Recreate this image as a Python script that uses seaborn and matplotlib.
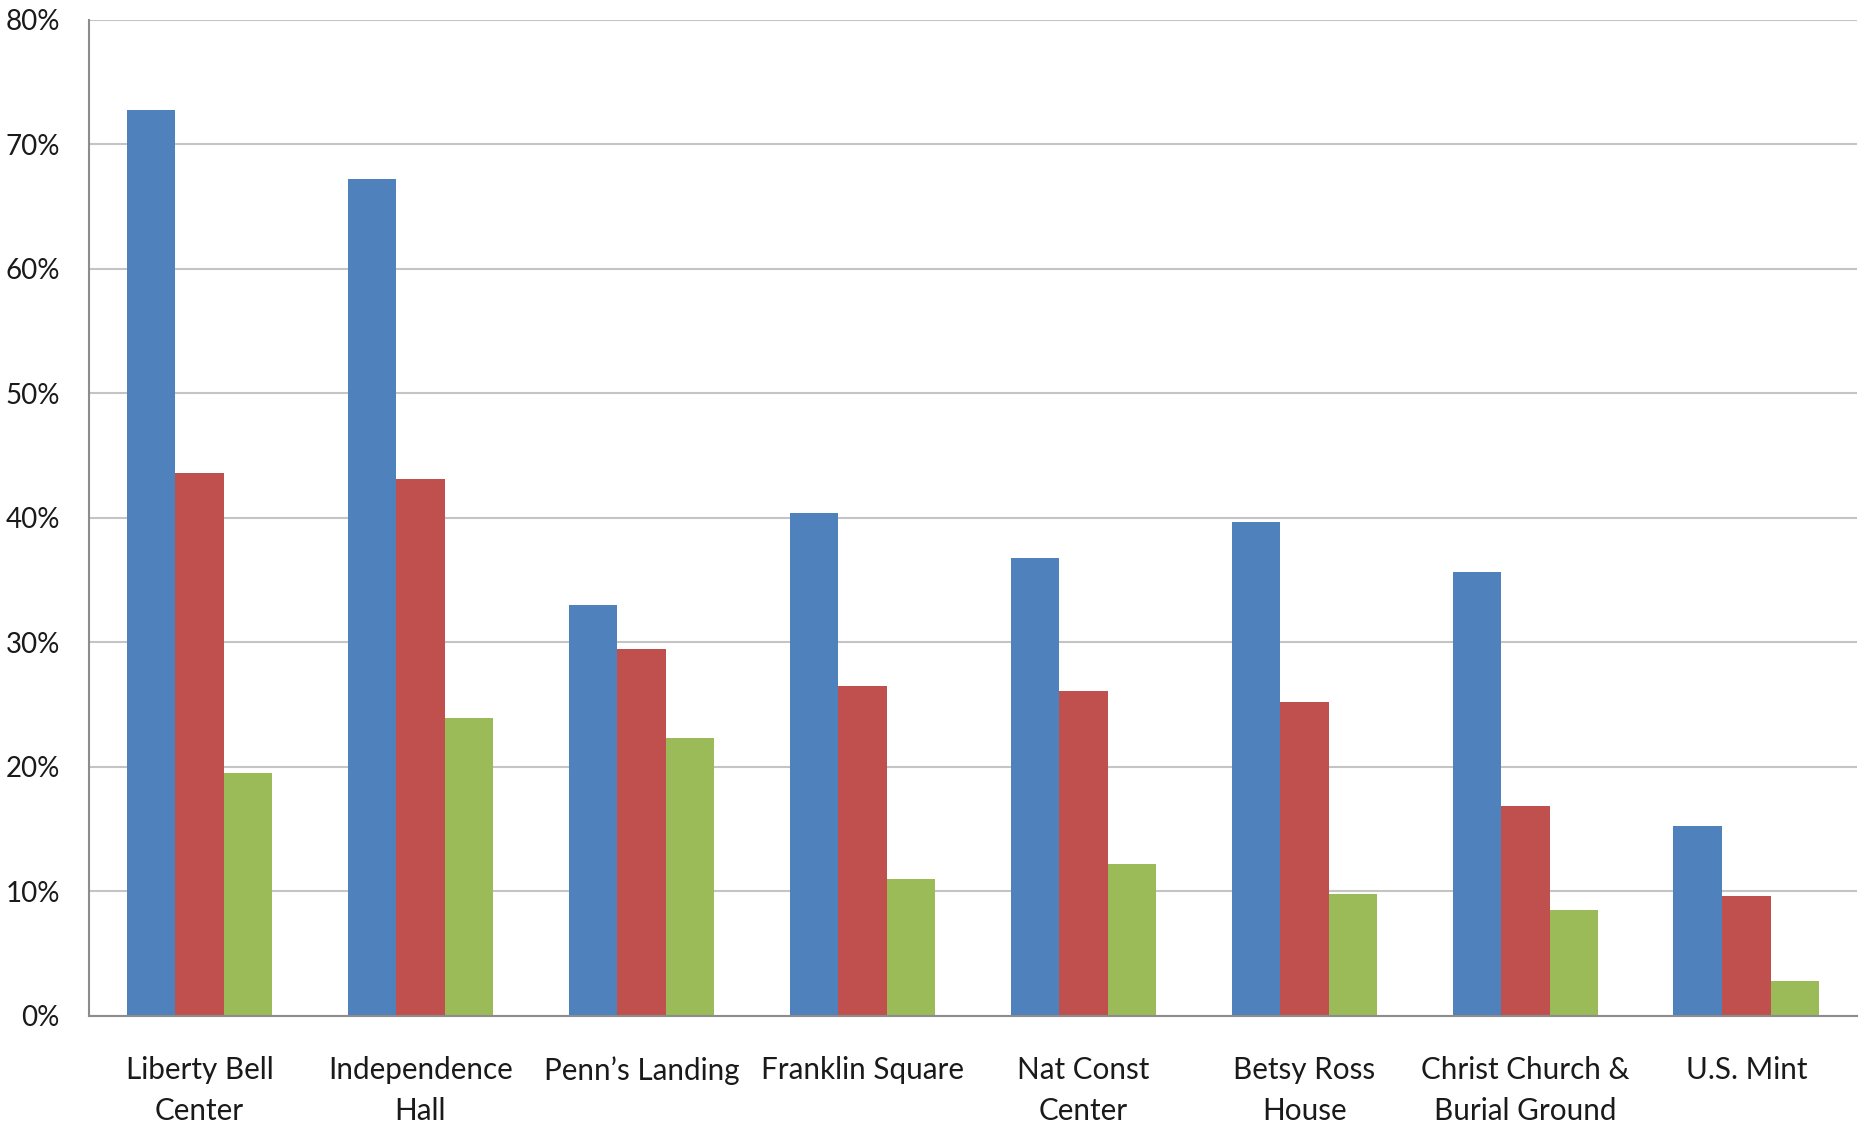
import matplotlib
matplotlib.use("Agg")
import matplotlib.pyplot as plt
import matplotlib.ticker as mticker
import seaborn as sns
import pandas as pd
import numpy as np

categories = ["Liberty Bell\nCenter", "Independence\nHall", "Penn\u2019s Landing", "Franklin Square",
              "Nat Const\nCenter", "Betsy Ross\nHouse", "Christ Church &\nBurial Ground", "U.S. Mint"]
series_names = ["Series 1", "Series 2", "Series 3"]
series1 = [72.8, 67.2, 33.0, 40.4, 36.8, 39.7, 35.7, 15.3]
series2 = [43.6, 43.1, 29.5, 26.5, 26.1, 25.2, 16.9, 9.6]
series3 = [19.5, 23.9, 22.3, 11.0, 12.2, 9.8, 8.5, 2.8]
colors = ["#4F81BD", "#C0504D", "#9BBB59"]
y_ticks = [0, 10, 20, 30, 40, 50, 60, 70, 80]

rows = []
for name, vals in zip(series_names, [series1, series2, series3]):
    for c, v in zip(categories, vals):
        rows.append({"category": c, "series": name, "value": v})
df = pd.DataFrame(rows)

sns.set_style("white")
plt.rcParams["font.family"] = ["Lato", "DejaVu Sans"]

fig = plt.figure(figsize=(18.7, 11.28), dpi=100)
ax = fig.add_axes([0.0476, 0.0993, 0.9454, 0.883])

sns.barplot(data=df, x="category", y="value", hue="series", order=categories,
            hue_order=series_names, palette=colors, width=0.66, gap=0,
            saturation=1, linewidth=0, legend=False, ax=ax, errorbar=None)

ax.set_ylim(0, 80)
ax.set_xlim(-0.5, len(categories) - 0.5)
ax.set_yticks(y_ticks)
ax.yaxis.set_major_formatter(mticker.FuncFormatter(lambda v, p: f"{int(v)}%"))
ax.grid(axis="y", color="#C4C4C4", linewidth=1.5)
ax.set_axisbelow(True)
ax.set_xlabel("")
ax.set_ylabel("")

for s in ["top", "right"]:
    ax.spines[s].set_visible(False)
for s in ["left", "bottom"]:
    ax.spines[s].set_color("#8C8C8C")
    ax.spines[s].set_linewidth(1.5)

ax.set_xticks(np.arange(len(categories)))
ax.set_xticklabels(categories, fontsize=21.3, linespacing=1.56, color="#1A1A1A")
ax.set_xticks(np.arange(-0.5, len(categories)), minor=True)
ax.tick_params(axis="x", which="major", length=0, pad=29)
ax.tick_params(axis="x", which="minor", length=7, width=1.5, color="#8C8C8C")
ax.tick_params(axis="y", which="major", length=7, width=1.5, color="#8C8C8C",
               labelsize=20, pad=14, labelcolor="#1A1A1A")

fig.savefig("out.png", dpi=100)
